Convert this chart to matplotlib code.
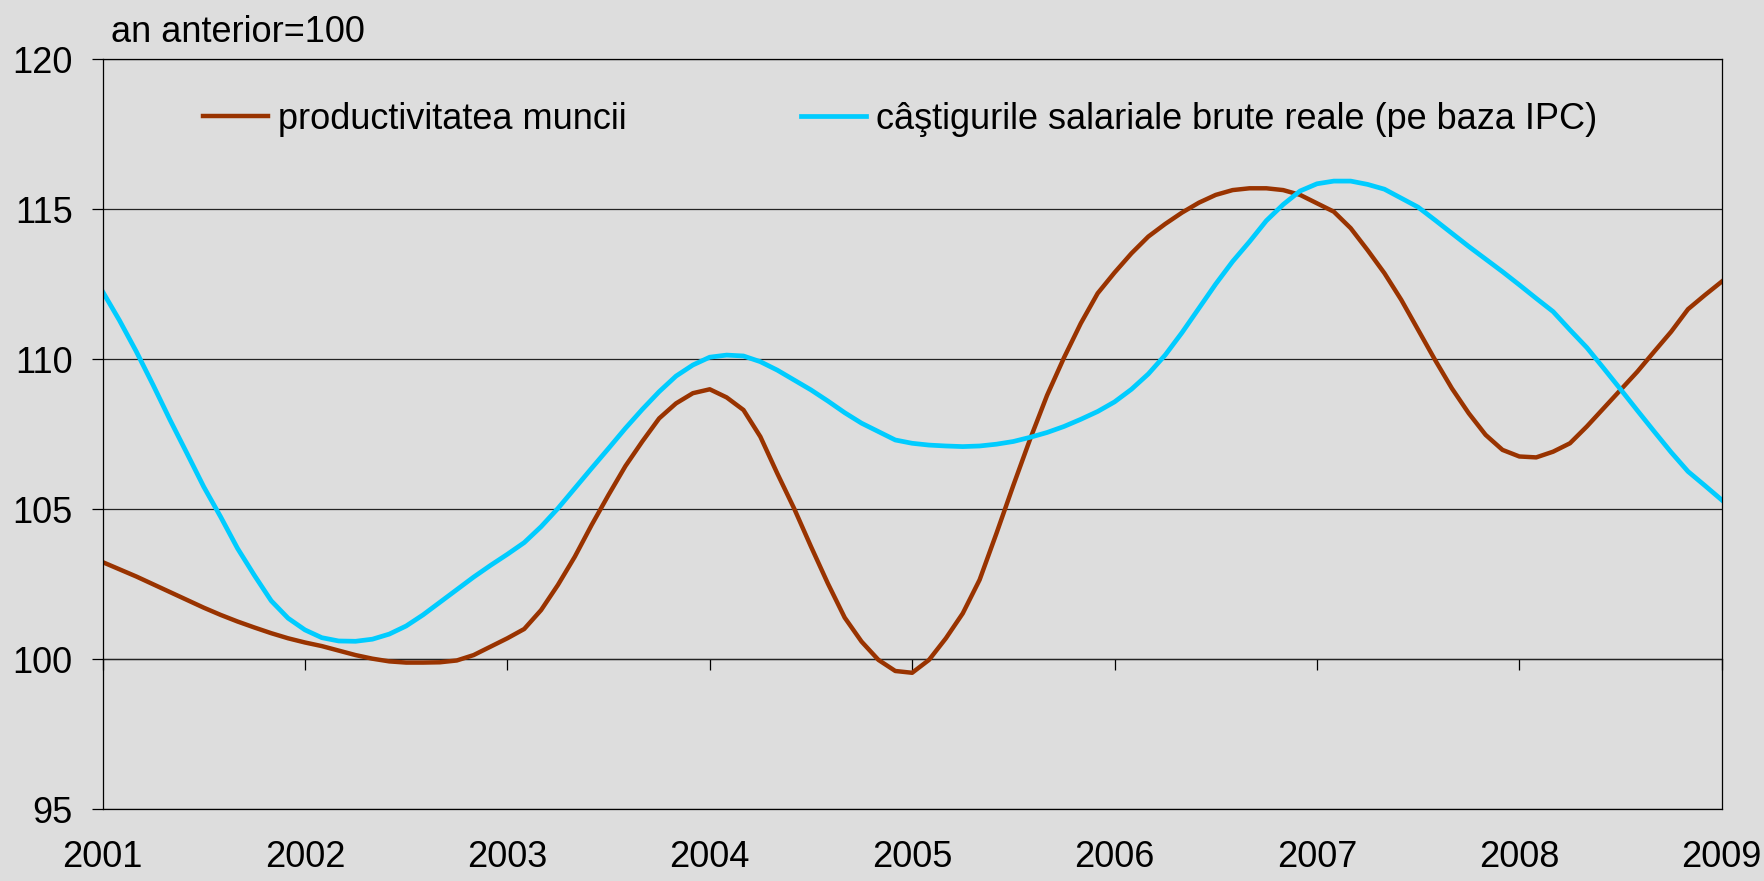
import matplotlib.pyplot as plt
import numpy as np

plt.rcParams['font.family'] = ['Liberation Sans', 'DejaVu Sans']

years = [2001, 2002, 2003, 2004, 2005, 2006, 2007, 2008, 2009]
yticks = [95, 100, 105, 110, 115, 120]

label_prod = 'productivitatea muncii'
label_cast = 'câştigurile salariale brute reale (pe baza IPC)'

# monthly values, Jan 2001 .. Jan 2009 (an anterior = 100)
productivitate = [
    103.24, 103.0, 102.76, 102.5, 102.24, 101.98, 101.72, 101.48, 101.26, 101.06, 100.87, 100.7,
    100.56, 100.44, 100.29, 100.14, 100.02, 99.93, 99.89, 99.89, 99.9, 99.96, 100.14, 100.42,
    100.7, 101.01, 101.64, 102.48, 103.42, 104.48, 105.48, 106.44, 107.26, 108.03, 108.53, 108.87,
    109.0, 108.73, 108.31, 107.42, 106.2, 105.03, 103.76, 102.53, 101.39, 100.59, 99.98, 99.61,
    99.55, 99.98, 100.7, 101.53, 102.65, 104.2, 105.8, 107.35, 108.8, 110.05, 111.2, 112.2,
    112.89, 113.53, 114.09, 114.51, 114.89, 115.22, 115.48, 115.64, 115.7, 115.7, 115.64, 115.48,
    115.2, 114.92, 114.37, 113.64, 112.87, 111.98, 110.98, 109.98, 109.03, 108.2, 107.48, 106.98,
    106.76, 106.73, 106.92, 107.2, 107.76, 108.37, 108.98, 109.59, 110.26, 110.92, 111.67, 112.14,
    112.59,
]

castiguri = [
    112.26, 111.3, 110.26, 109.14, 107.98, 106.87, 105.75, 104.75, 103.7, 102.8, 101.95, 101.37,
    100.98, 100.72, 100.61, 100.6, 100.67, 100.84, 101.11, 101.48, 101.9, 102.32, 102.74, 103.13,
    103.5, 103.89, 104.42, 105.03, 105.7, 106.37, 107.03, 107.7, 108.33, 108.92, 109.44, 109.81,
    110.07, 110.14, 110.11, 109.92, 109.64, 109.31, 108.98, 108.61, 108.22, 107.87, 107.59, 107.31,
    107.2, 107.14, 107.11, 107.09, 107.11, 107.17, 107.26, 107.4, 107.56, 107.76, 108.0, 108.26,
    108.58, 109.0, 109.51, 110.14, 110.89, 111.7, 112.51, 113.26, 113.92, 114.62, 115.16, 115.61,
    115.85, 115.94, 115.94, 115.83, 115.67, 115.37, 115.07, 114.64, 114.2, 113.76, 113.34, 112.92,
    112.48, 112.03, 111.59, 110.98, 110.39, 109.7, 109.0, 108.29, 107.59, 106.9, 106.26, 105.79,
    105.31,
]

months = years[0] + np.arange(len(productivitate)) / 12

bg = '#dddddd'
fs = 26

fig = plt.figure(figsize=(17.65, 8.81), dpi=100, facecolor=bg)
ax = fig.add_axes([0.0581, 0.0814, 0.9174, 0.8513], facecolor=bg)

ax.plot(months, productivitate, color='#993300', lw=3.2, label=label_prod)
ax.plot(months, castiguri, color='#00ccff', lw=3.4, label=label_cast)

ax.set_xlim(years[0], years[-1])
ax.set_ylim(yticks[0], yticks[-1])
ax.set_yticks(yticks)
ax.set_xticks(years)
ax.tick_params(axis='x', length=0, pad=22, labelsize=fs)
ax.tick_params(axis='y', direction='out', length=8, width=0.9, pad=13.5, labelsize=fs)
ax.grid(axis='y', color='#222222', lw=0.9)
for s in ax.spines.values():
    s.set_linewidth(0.9)
    s.set_color('black')

# horizontal axis crosses at 100, tick marks hang below it
sec = ax.secondary_xaxis((100 - yticks[0]) / (yticks[-1] - yticks[0]))
sec.set_xticks(years)
sec.tick_params(direction='out', length=8, width=0.9, labelbottom=False)
sec.spines['bottom'].set_linewidth(0.9)

ax.legend(loc='center left', bbox_to_anchor=(0.062, 0.920), ncol=2, frameon=False,
          handlelength=1.8, handletextpad=0.28, columnspacing=4.82,
          borderpad=0, borderaxespad=0, fontsize=fs)

fig.text(111 / 1765, 1 - 42 / 881, 'an anterior=100', fontsize=fs, va='baseline')

plt.savefig('out.png', dpi=100, facecolor=bg)
